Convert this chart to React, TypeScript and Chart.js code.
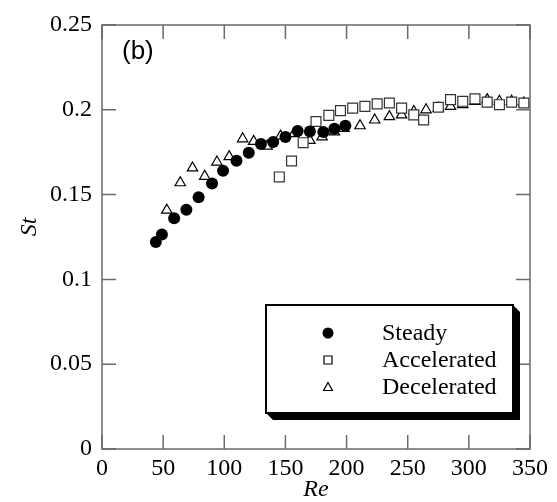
import React, { useEffect, useRef } from "react";
import { Chart, registerables } from "chart.js";

Chart.register(...registerables);

// ---- Data ----
const reSteady = [44, 49, 59, 69, 79, 90, 99, 110, 120, 130, 140, 150, 160, 170, 181, 190, 199];
const stSteady = [0.122, 0.1265, 0.136, 0.141, 0.1485, 0.1565, 0.164, 0.170, 0.1747, 0.1798, 0.181, 0.184, 0.1875, 0.1872, 0.1869, 0.1888, 0.1906];

const reAccel = [145, 155, 164.5, 175, 185.5, 195, 205, 215, 225, 235, 245, 255, 263, 275, 285, 295, 305, 315, 325, 335, 345];
const stAccel = [0.1604, 0.1698, 0.1806, 0.1931, 0.1967, 0.1995, 0.201, 0.202, 0.2035, 0.204, 0.201, 0.197, 0.194, 0.2015, 0.206, 0.205, 0.2065, 0.2045, 0.203, 0.2045, 0.204];

const reDecel = [53, 64, 74, 84, 94, 104, 115, 124, 135, 146, 157, 170, 180, 190, 198, 211, 223, 235, 245, 255, 265, 275, 285, 295, 305, 315, 325, 335, 345];
const stDecel = [0.1408, 0.157, 0.1657, 0.1608, 0.1692, 0.1724, 0.1829, 0.1814, 0.1786, 0.1845, 0.1859, 0.182, 0.184, 0.187, 0.189, 0.1906, 0.194, 0.196, 0.197, 0.199, 0.200, 0.201, 0.202, 0.203, 0.205, 0.206, 0.205, 0.205, 0.204];

const seriesNames = ["Steady", "Accelerated", "Decelerated"];
const xTickValues = [0, 50, 100, 150, 200, 250, 300, 350];
const xTickLabels = ["0", "50", "100", "150", "200", "250", "300", "350"];
const yTickValues = [0, 0.05, 0.1, 0.15, 0.2, 0.25];
const yTickLabels = ["0", "0.05", "0.1", "0.15", "0.2", "0.25"];
const xTitle = "Re";
const yTitle = "St";
const panelLabel = "(b)";

const SERIF = "'Liberation Serif', 'Times New Roman', serif";

const toPts = (xs: number[], ys: number[]) => xs.map((x, i) => ({ x, y: ys[i] }));

const framePlugin = {
  id: "framePlugin",
  afterDatasetsDraw(chart: any) {
    const { ctx, chartArea: a, scales } = chart;
    const xs = scales.x;
    const ys = scales.y;
    ctx.save();
    ctx.strokeStyle = "#6a6a6a";
    ctx.lineWidth = 1.5;
    ctx.strokeRect(a.left, a.top, a.right - a.left, a.bottom - a.top);
    const tl = 14;
    ctx.beginPath();
    xTickValues.forEach((v) => {
      const px = xs.getPixelForValue(v);
      ctx.moveTo(px, a.bottom);
      ctx.lineTo(px, a.bottom - tl);
      ctx.moveTo(px, a.top);
      ctx.lineTo(px, a.top + tl);
    });
    yTickValues.forEach((v) => {
      const py = ys.getPixelForValue(v);
      ctx.moveTo(a.left, py);
      ctx.lineTo(a.left + tl, py);
      ctx.moveTo(a.right, py);
      ctx.lineTo(a.right - tl, py);
    });
    ctx.stroke();

    // axis titles
    ctx.fillStyle = "#000";
    ctx.font = `italic 24px ${SERIF}`;
    ctx.textAlign = "center";
    ctx.textBaseline = "middle";
    ctx.fillText(xTitle, (a.left + a.right) / 2, a.bottom + 41);
    ctx.save();
    ctx.translate(a.left - 72, ys.getPixelForValue(0.131));
    ctx.rotate(-Math.PI / 2);
    ctx.fillText(yTitle, 0, 0);
    ctx.restore();

    // panel label
    ctx.font = "26px 'Liberation Sans', 'DejaVu Sans', sans-serif";
    ctx.textAlign = "left";
    ctx.fillText(panelLabel, a.left + 20, a.top + 27);

    // legend box
    const w = a.right - a.left;
    const h = a.bottom - a.top;
    const lx0 = a.left + w * ((266 - 102) / 428);
    const lx1 = a.left + w * ((513 - 102) / 428);
    const ly0 = a.top + h * ((305 - 25) / 424);
    const ly1 = a.top + h * ((413 - 25) / 424);
    const sh = 7;
    ctx.fillStyle = "#000";
    ctx.beginPath();
    ctx.moveTo(lx1, ly0);
    ctx.lineTo(lx1 + sh, ly0 + sh);
    ctx.lineTo(lx1 + sh, ly1 + sh);
    ctx.lineTo(lx0 + sh, ly1 + sh);
    ctx.lineTo(lx0, ly1);
    ctx.closePath();
    ctx.fill();
    ctx.fillStyle = "#fff";
    ctx.fillRect(lx0, ly0, lx1 - lx0, ly1 - ly0);
    ctx.strokeStyle = "#000";
    ctx.lineWidth = 2;
    ctx.strokeRect(lx0, ly0, lx1 - lx0, ly1 - ly0);

    const rows = [333, 360, 387].map((y) => a.top + h * ((y - 25) / 424));
    const mx = lx0 + 62;
    const tx = lx0 + 116;
    ctx.font = `24px ${SERIF}`;
    ctx.textAlign = "left";
    ctx.textBaseline = "middle";
    rows.forEach((ry, i) => {
      ctx.lineWidth = 1.2;
      ctx.strokeStyle = "#000";
      if (i === 0) {
        ctx.fillStyle = "#000";
        ctx.beginPath();
        ctx.arc(mx, ry, 5.5, 0, Math.PI * 2);
        ctx.fill();
      } else if (i === 1) {
        ctx.fillStyle = "#fff";
        ctx.beginPath();
        ctx.rect(mx - 4, ry - 4, 8, 8);
        ctx.fill();
        ctx.stroke();
      } else {
        ctx.fillStyle = "#fff";
        ctx.beginPath();
        ctx.moveTo(mx, ry - 4.5);
        ctx.lineTo(mx + 4.5, ry + 3.5);
        ctx.lineTo(mx - 4.5, ry + 3.5);
        ctx.closePath();
        ctx.fill();
        ctx.stroke();
      }
      ctx.fillStyle = "#000";
      ctx.fillText(seriesNames[i], tx, ry + 1);
    });
    ctx.restore();
  },
};

export default function App() {
  const ref = useRef<HTMLCanvasElement | null>(null);
  useEffect(() => {
    if (!ref.current) return;
    const chart = new Chart(ref.current, {
      type: "scatter",
      data: {
        datasets: [
          {
            label: seriesNames[2],
            data: toPts(reDecel, stDecel),
            pointStyle: "triangle",
            pointRadius: 6,
            backgroundColor: "#fff",
            borderColor: "#000",
            borderWidth: 1.2,
            order: 3,
          },
          {
            label: seriesNames[1],
            data: toPts(reAccel, stAccel),
            pointStyle: "rect",
            pointRadius: 7,
            backgroundColor: "#fff",
            borderColor: "#333",
            borderWidth: 1.2,
            order: 2,
          },
          {
            label: seriesNames[0],
            data: toPts(reSteady, stSteady),
            pointStyle: "circle",
            pointRadius: 6,
            backgroundColor: "#000",
            borderColor: "#000",
            borderWidth: 0,
            order: 1,
          },
        ],
      },
      options: {
        animation: false,
        responsive: true,
        maintainAspectRatio: false,
        layout: { padding: { left: 0, right: 27, top: 25, bottom: 0 } },
        plugins: { legend: { display: false }, tooltip: { enabled: false } },
        scales: {
          x: {
            type: "linear",
            min: 0,
            max: 350,
            grid: { display: false, drawTicks: false },
            border: { display: false },
            afterBuildTicks: (s: any) => {
              s.ticks = xTickValues.map((v) => ({ value: v }));
            },
            afterFit: (s: any) => {
              s.height = 53;
            },
            ticks: {
              padding: 5,
              color: "#000",
              font: { family: SERIF, size: 24 },
              maxRotation: 0,
              callback: (v: any) => xTickLabels[xTickValues.indexOf(Number(v))] ?? "",
            },
          },
          y: {
            type: "linear",
            min: 0,
            max: 0.25,
            grid: { display: false, drawTicks: false },
            border: { display: false },
            afterBuildTicks: (s: any) => {
              s.ticks = yTickValues.map((v) => ({ value: v }));
            },
            afterFit: (s: any) => {
              s.width = 102;
            },
            ticks: {
              padding: 10,
              color: "#000",
              font: { family: SERIF, size: 24 },
              callback: (v: any) => {
                const i = Math.round(Number(v) / 0.05);
                return yTickLabels[i] ?? "";
              },
            },
          },
        },
      },
      plugins: [framePlugin],
    });
    return () => chart.destroy();
  }, []);
  return (
    <div style={{ position: "fixed", left: 0, top: 0, width: 557, height: 502, background: "#fff" }}>
      <canvas ref={ref} />
    </div>
  );
}
